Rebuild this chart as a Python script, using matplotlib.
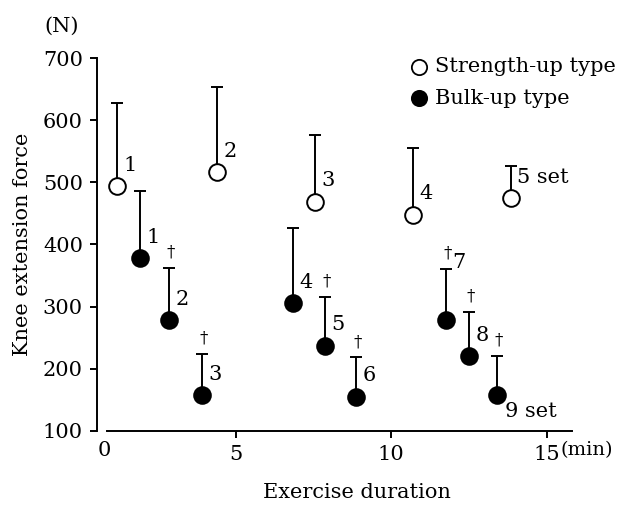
import matplotlib as mpl
mpl.use('Agg')
import matplotlib.pyplot as plt
import matplotlib.transforms as mtransforms

# strength-up type (5 sets)
str_x = [1.19, 4.41, 7.56, 10.71, 13.83]
str_y = [494, 517, 469, 448, 474]
str_top = [628, 653, 576, 556, 526]
str_labels = ['1', '2', '3', '4', '5 set']

# bulk-up type (9 sets)
bulk_x = [1.93, 2.86, 3.92, 6.85, 7.88, 8.87, 11.77, 12.51, 13.41]
bulk_y = [378, 278, 158, 306, 237, 155, 279, 220, 158]
bulk_top = [486, 362, 224, 427, 316, 218, 361, 291, 221]
bulk_labels = ['1', '2', '3', '4', '5', '6', '7', '8', '9 set']
bulk_dagger = [False, True, True, False, True, True, True, True, True]

x_ticks = [5, 10, 15]
y_ticks = [100, 200, 300, 400, 500, 600, 700]


def main():
    plt.rcParams['font.family'] = ['DejaVu Serif']
    fig = plt.figure(figsize=(6.21, 5.05), dpi=100)
    ax = fig.add_axes([0.156, 0.147, 0.765, 0.738])

    fs = 15
    for xs, ys, tops, face in [(str_x, str_y, str_top, 'white'),
                               (bulk_x, bulk_y, bulk_top, 'black')]:
        err = [[0] * len(ys), [t - y for t, y in zip(tops, ys)]]
        ax.errorbar(xs, ys, yerr=err, fmt='none', ecolor='black',
                    elinewidth=1.4, capsize=4, capthick=1.4, zorder=2)
        ax.plot(xs, ys, 'o', ms=12, mfc=face, mec='black', mew=1.4, zorder=3)

    for x, y, t, lab in zip(str_x, str_y, str_top, str_labels):
        ax.text(x + 0.2, y + 18, lab, fontsize=fs, ha='left', va='bottom')

    for i, (x, y, t, lab) in enumerate(zip(bulk_x, bulk_y, bulk_top, bulk_labels)):
        if lab == '9 set':
            ax.text(x + 0.25, y - 12, lab, fontsize=fs, ha='left', va='top')
        elif lab == '7':
            ax.text(x + 0.2, t - 6, lab, fontsize=fs, ha='left', va='bottom')
        else:
            ax.text(x + 0.2, y + 18, lab, fontsize=fs, ha='left', va='bottom')
        if bulk_dagger[i]:
            ax.text(x + 0.05, t + 12, '\u2020', fontsize=12, ha='center', va='bottom')

    # legend
    ax.plot([10.9], [686], 'o', ms=11, mfc='white', mec='black', mew=1.3,
            clip_on=False)
    ax.plot([10.9], [635], 'o', ms=11, mfc='black', mec='black', mew=1.3,
            clip_on=False)
    ax.text(11.4, 686, 'Strength-up type', fontsize=fs, va='center')
    ax.text(11.4, 635, 'Bulk-up type', fontsize=fs, va='center')

    ax.set_xlim(0.55, 15.8)
    ax.set_ylim(100, 700)
    ax.spines['top'].set_visible(False)
    ax.spines['right'].set_visible(False)
    ax.spines['bottom'].set_bounds(0.87, 15.8)
    for s in ('left', 'bottom'):
        ax.spines[s].set_linewidth(1.4)
    ax.set_xticks(x_ticks)
    ax.set_xticklabels([str(v) for v in x_ticks])
    ax.set_yticks(y_ticks)
    ax.tick_params(direction='out', length=5, width=1.4, labelsize=fs, pad=5)
    trans = mtransforms.blended_transform_factory(ax.transData, ax.transAxes)
    ax.text(0.8, -0.028, '0', fontsize=fs, ha='center', va='top', transform=trans)
    ax.text(15.42, -0.028, '(min)', fontsize=14, ha='left', va='top', transform=trans)

    ax.set_xlabel('Exercise duration', fontsize=fs, labelpad=14)
    ax.xaxis.label.set_x(0.547)
    ax.set_ylabel('Knee extension force', fontsize=fs, labelpad=8)
    fig.text(0.1, 0.947, '(N)', fontsize=fs, ha='center', va='center')

    fig.savefig('out.png', dpi=100)


if __name__ == '__main__':
    main()
